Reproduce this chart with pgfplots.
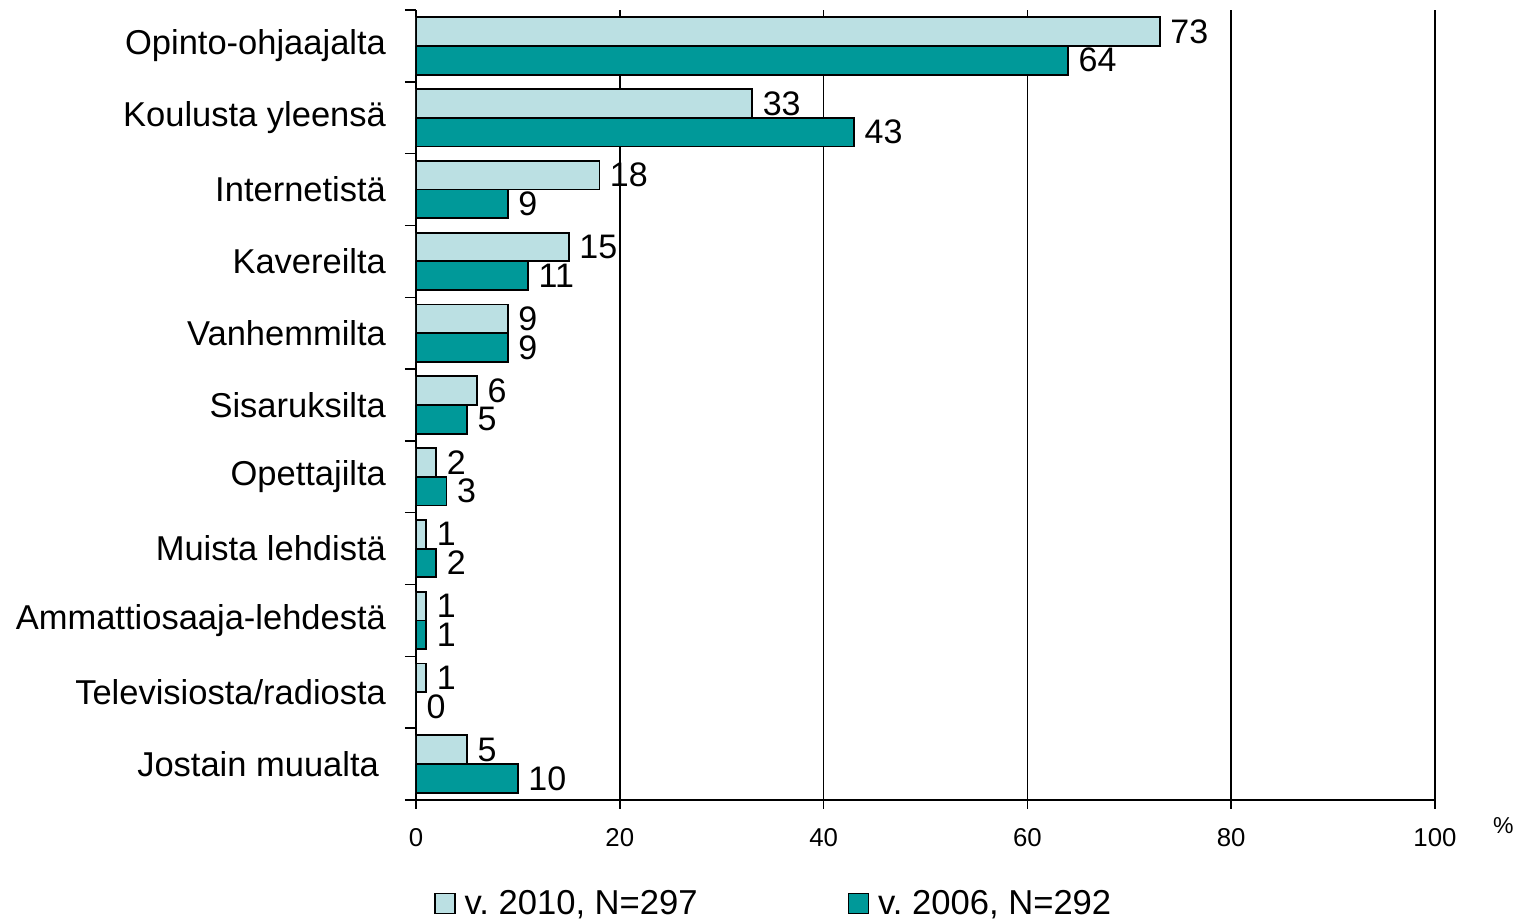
\documentclass[border=0pt]{standalone}
\usepackage{fontspec}
\setmainfont{Liberation Sans}
\usepackage{pgfplots}
\pgfplotsset{compat=1.18}

\definecolor{light}{HTML}{BBE0E3}
\definecolor{dark}{HTML}{009999}

% y = 10 is the top category
\pgfplotstableread{
y  v2010 v2006
10 73 64
9  33 43
8  18 9
7  15 11
6  9  9
5  6  5
4  2  3
3  1  2
2  1  1
1  1  0
0  5  10
}\datatable

\begin{document}
\begin{tikzpicture}
\useasboundingbox (-208pt,-59.5pt) rectangle (551pt,400pt);
\begin{axis}[
    scale only axis,
    width=509.5pt, height=395pt,
    xbar, bar width=0.40,
    xmin=0, xmax=100, ymin=-0.5, ymax=10.5,
    axis x line*=bottom, axis y line*=left,
    axis line style={-, line width=1pt},
    xtick={0,20,...,100},
    xmajorgrids, major grid style={black, line width=0.75pt},
    tick align=outside,
    major tick length=4.5pt,
    x tick style={black, line width=0.75pt},
    xticklabel style={font=\fontsize{12.9}{14}\selectfont, yshift=-6pt},
    /pgf/number format/assume math mode=true,
    ytick={0,...,10},
    yticklabels={Jostain muualta\hspace*{3.5pt}, Televisiosta/radiosta, Ammattiosaaja-lehdestä,
      Muista lehdistä, Opettajilta, Sisaruksilta, Vanhemmilta, Kavereilta,
      Internetistä, Koulusta yleensä, Opinto-ohjaajalta},
    y tick style={draw=none},
    minor ytick={-0.5,0.5,...,10.5},
    minor y tick style={draw=black, line width=0.75pt},
    minor tick length=5.5pt,
    yticklabel style={font=\fontsize{17.25}{20}\selectfont, xshift=-7pt},
    nodes near coords,
    nodes near coords style={font=\fontsize{17}{20}\selectfont, anchor=west, black, xshift=1.5pt},
    xlabel={\%},
    xlabel style={font=\fontsize{11.5}{13}\selectfont, at={(axis description cs:1.067,-0.032)}, anchor=center},
    legend columns=2,
    legend style={draw=none, fill=none, font=\fontsize{17.3}{20}\selectfont,
      at={(axis description cs:0.352,-0.131)}, anchor=center,
      /tikz/every even column/.append style={column sep=73pt}},
    legend image code/.code={\draw[#1, line width=0.75pt] (0pt,-5pt) rectangle (10pt,5pt);},
]
\addplot[fill=light, draw=black, line width=0.9pt, bar shift=0.20] table[x=v2010, y=y] {\datatable};
\addplot[fill=dark, draw=black, line width=0.9pt, bar shift=-0.20] table[x=v2006, y=y] {\datatable};
\legend{\hspace*{2.5pt}v.\ 2010{,} N=297, \hspace*{2.5pt}v.\ 2006{,} N=292}
\end{axis}
\end{tikzpicture}
\end{document}
